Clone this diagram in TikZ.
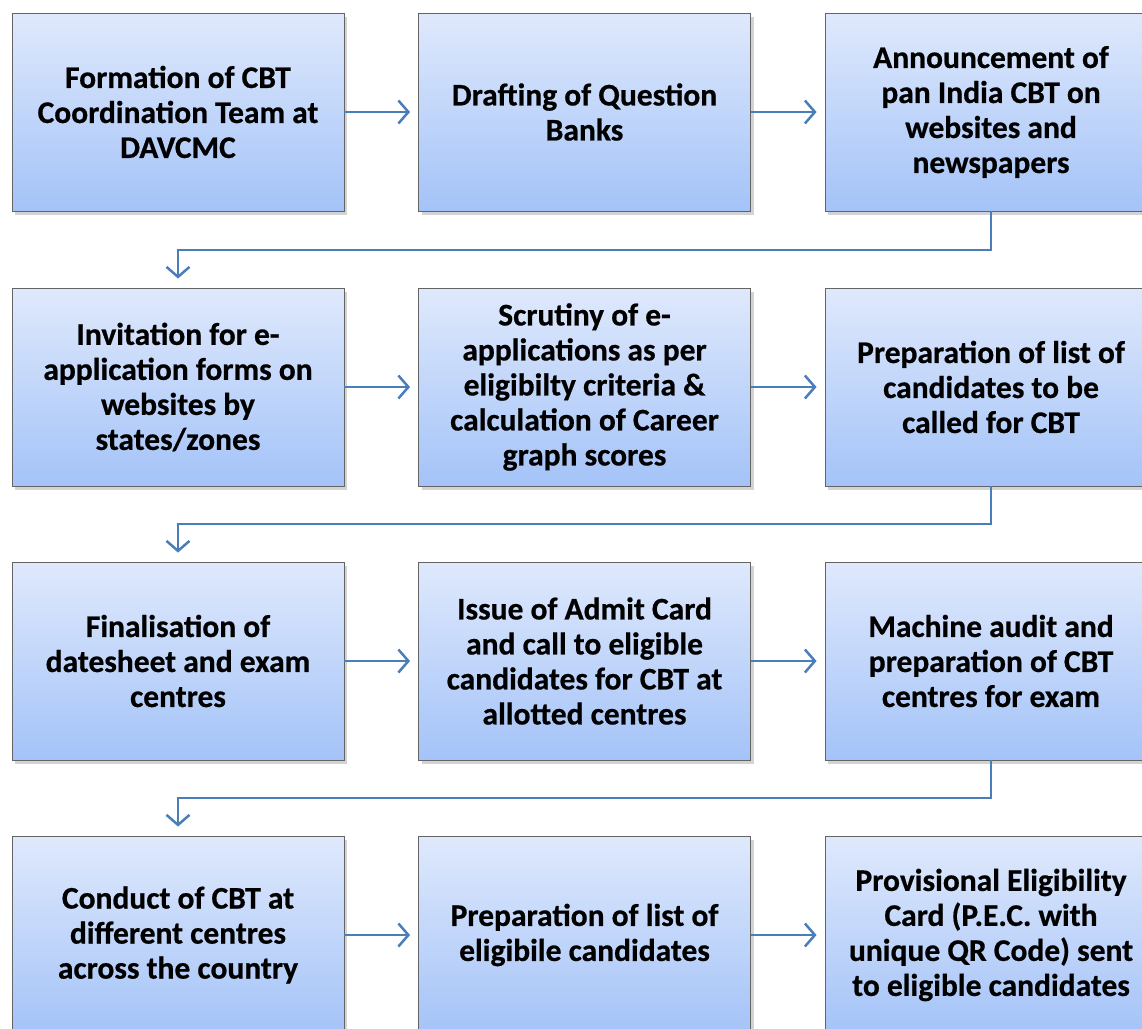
\documentclass[tikz,border=0pt]{standalone}
\usepackage{fontspec}
\setmainfont{Carlito}[BoldFeatures={FakeBold=0.6}]
\usetikzlibrary{arrows.meta,shadows,positioning}
\definecolor{boxtop}{RGB}{223,233,252}
\definecolor{boxbot}{RGB}{164,195,248}
\definecolor{boxline}{RGB}{100,100,100}
\definecolor{arrowblue}{RGB}{74,126,187}
\tikzset{
  stepbox/.style={draw=boxline, line width=0.9pt, top color=boxtop, bottom color=boxbot,
    minimum width=332pt, minimum height=198pt, align=center, inner sep=0pt,
    font=\fontsize{31.5}{35}\selectfont\bfseries,
    drop shadow={opacity=0.35, shadow xshift=3pt, shadow yshift=-4pt}},
  flow/.style={draw=arrowblue, line width=2.5pt, -{Straight Barb[length=10pt,width=23pt,line width=2.5pt]}}
}
\begin{document}
\begin{tikzpicture}[x=1pt,y=-1pt]
\useasboundingbox (0,0) rectangle (1142,1028);
\clip (0,0) rectangle (1142,1028);
% row 1
\node[stepbox] (b1) at (178,112) {Formation of CBT\\Coordination Team at\\DAVCMC};
\node[stepbox] (b2) at (584.5,112) {Drafting of Question\\Banks};
\node[stepbox] (b3) at (991,112) {Announcement of\\pan India CBT on\\websites and\\newspapers};
% row 2
\node[stepbox] (b4) at (178,387) {Invitation for e-\\application forms on\\websites by\\states/zones};
\node[stepbox] (b5) at (584.5,387) {Scrutiny of e-\\applications as per\\eligibilty criteria \&\\calculation of Career\\graph scores};
\node[stepbox] (b6) at (991,387) {Preparation of list of\\candidates to be\\called for CBT};
% row 3
\node[stepbox] (b7) at (178,661) {Finalisation of\\datesheet and exam\\centres};
\node[stepbox] (b8) at (584.5,661) {Issue of Admit Card\\and call to eligible\\candidates for CBT at\\allotted centres};
\node[stepbox] (b9) at (991,661) {Machine audit and\\preparation of CBT\\centres for exam};
% row 4
\node[stepbox] (b10) at (178,935) {Conduct of CBT at\\different centres\\across the country};
\node[stepbox] (b11) at (584.5,935) {Preparation of list of\\eligibile candidates};
\node[stepbox] (b12) at (991,935) {Provisional Eligibility\\Card (P.E.C. with\\unique QR Code) sent\\to eligible candidates};
% horizontal arrows
\foreach \a/\b in {b1/b2,b2/b3,b4/b5,b5/b6,b7/b8,b8/b9,b10/b11,b11/b12}{
  \draw[flow] (\a.east) -- ([xshift=-8pt]\b.west);
}
% row transitions
\coordinate (t1) at (991,250);
\coordinate (t2) at (991,524);
\coordinate (t3) at (991,798);
\draw[flow] (b3.south) -- (t1) -| ([yshift=9pt]b4.north);
\draw[flow] (b6.south) -- (t2) -| ([yshift=9pt]b7.north);
\draw[flow] (b9.south) -- (t3) -| ([yshift=9pt]b10.north);
\end{tikzpicture}
\end{document}
